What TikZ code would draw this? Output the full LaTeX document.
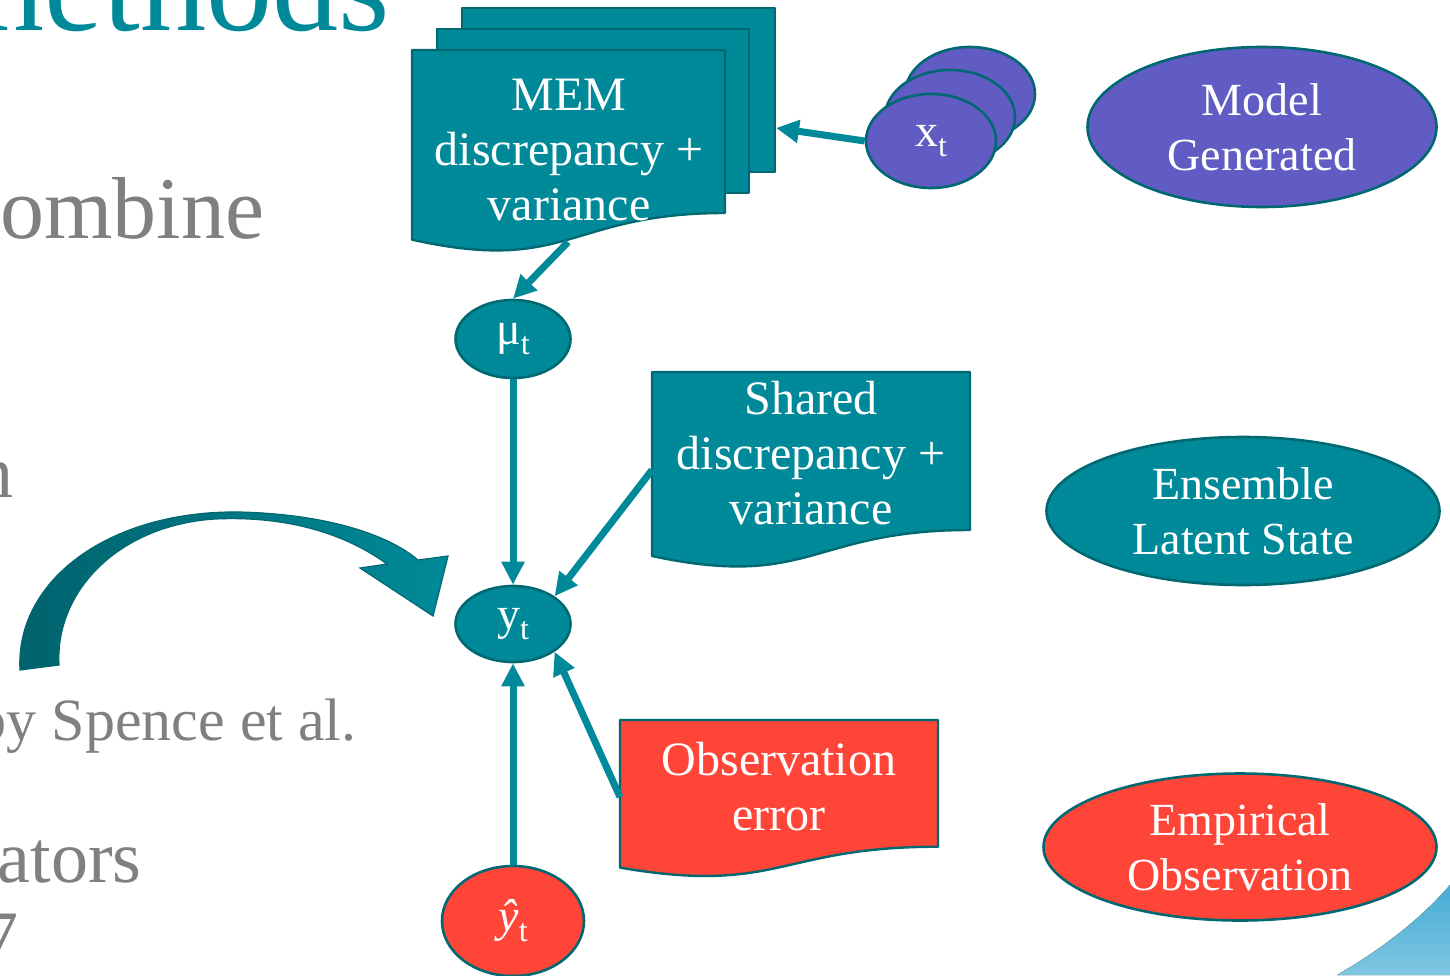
\documentclass[tikz,border=0pt]{standalone}
\usepackage{fontspec}
\setmainfont{Liberation Serif}
\usetikzlibrary{arrows.meta,shapes.geometric}
\definecolor{teal1}{RGB}{0,138,153}
\definecolor{tealdark}{RGB}{0,104,113}
\definecolor{tealdeep}{RGB}{0,98,108}
\definecolor{purp}{RGB}{97,91,196}
\definecolor{redobs}{RGB}{255,69,56}
\definecolor{grayt}{RGB}{128,128,128}
\definecolor{skyA}{RGB}{71,172,213}
\definecolor{skyB}{RGB}{128,198,225}
% time index set as a lowered subscript
\newcommand{\tidx}{\raisebox{-5pt}{\fontsize{16}{16}\selectfont t}}

\begin{document}
\begin{tikzpicture}[x=0.5pt,y=-0.5pt,
  sheet/.style={draw=tealdark,line width=1.2pt,line join=round},
  bubble/.style={ellipse,draw=tealdark,line width=1.3pt,inner sep=0pt,text=white},
  boxtext/.style={text=white,align=center,inner sep=0pt,font=\fontsize{24}{27.5}\selectfont},
  legend/.style={bubble,align=center,font=\fontsize{23}{27.5}\selectfont},
  var/.style={bubble,font=\fontsize{23}{27}\selectfont},
  link/.style={draw=teal1,line width=3.5pt,-{Triangle[length=11.5pt,width=11pt]}},
  slide/.style={text=grayt,inner sep=0pt}
]
\useasboundingbox (0,0) rectangle (1450,975);
\clip (0,0) rectangle (1450,975);

% slide text running off the left edge
\node[anchor=base east,inner sep=0pt,text=teal1,font=\fontsize{66}{66}\selectfont] (title) at (390,30) {nethods};
\node[slide,anchor=base west,font=\fontsize{44}{44}\selectfont] (l1) at (0,238) {ombine};
\node[slide,anchor=base east,font=\fontsize{37}{37}\selectfont] (l2) at (14,497) {n};
\node[slide,anchor=base east,font=\fontsize{30}{30}\selectfont] (l3) at (357,740) {by Spence et al.};
\node[slide,anchor=base east,font=\fontsize{37}{37}\selectfont] (l4) at (142,882) {ators};
\node[slide,anchor=base east,font=\fontsize{37}{37}\selectfont] (l5) at (19,962) {7};

% curved block arrow
\path[draw=tealdark,line width=0.6pt,left color=tealdeep,right color=teal1]
  (20,670) .. controls (15,580) and (110,510) .. (240,512)
  .. controls (320,514) and (385,532) .. (418,560)
  -- (448,556) -- (433,616) -- (360,568) -- (387,564)
  .. controls (340,530) and (280,516) .. (215,519)
  .. controls (120,525) and (55,590) .. (59,665) -- cycle;

% corner decoration
\fill[top color=skyA,bottom color=skyB]
  (1337,975) .. controls (1380,950) and (1420,920) .. (1450,885) -- (1450,975) -- cycle;

% stacked MEM sheets
\filldraw[sheet,fill=teal1] (462,8) rectangle (775,172);
\filldraw[sheet,fill=teal1] (437,29) rectangle (749,193);
\filldraw[sheet,fill=teal1] (412,50) -- (725,50) -- (725,213)
  .. controls (568.5,213) and (568.5,274.7) .. (412,239.6) -- cycle;
\node[boxtext] (mem) at (569,150) {MEM\\discrepancy +\\variance};

% shared discrepancy sheet
\filldraw[sheet,fill=teal1] (652,372) -- (970,372) -- (970,530)
  .. controls (811,530) and (811,590) .. (652,556) -- cycle;
\node[boxtext] (shared) at (811,453) {Shared\\discrepancy +\\variance};

% observation error sheet
\filldraw[sheet,fill=redobs] (620,720) -- (938,720) -- (938,846.7)
  .. controls (779,846.7) and (779,894.9) .. (620,867.6) -- cycle;
\node[boxtext] (obs) at (779,787) {Observation\\error};

% connector ends on the sheets
\coordinate (memR) at (776,128);
\coordinate (memB) at (568,242);
\coordinate (sharedL) at (652,470);
\coordinate (obsL) at (620,797);

% variables
\node[var,fill=purp,minimum width=65pt,minimum height=47pt] (x3) at (970,94) {};
\node[var,fill=purp,minimum width=65pt,minimum height=47pt] (x2) at (950,117) {};
\node[var,fill=purp,minimum width=65pt,minimum height=47pt] (xt) at (931,141) {x\tidx};
\node[var,fill=teal1,minimum width=57.5pt,minimum height=39pt] (mu) at (513,339) {μ\tidx};
\node[var,fill=teal1,minimum width=57.5pt,minimum height=38pt] (yt) at (513,624) {y\tidx};
\node[var,fill=redobs,minimum width=71pt,minimum height=55pt] (yhat) at (513,921) {{\itshape ŷ}\tidx};

% legend
\node[legend,fill=purp,minimum width=174.5pt,minimum height=80pt] (lgModel) at (1262,127) {Model\\Generated};
\node[legend,fill=teal1,minimum width=196.5pt,minimum height=74pt] (lgEns) at (1243,511) {Ensemble\\Latent State};
\node[legend,fill=redobs,minimum width=196.5pt,minimum height=73.5pt] (lgEmp) at (1240,847) {Empirical\\Observation};

% connectors
\draw[link] (xt.west) -- (memR);
\draw[link] (memB) -- (mu.north);
\draw[link] (mu.south) -- (yt.north);
\draw[link] (sharedL) -- (yt.north east);
\draw[link] (obsL) -- (yt.south east);
\draw[link] (yhat.north) -- (yt.south);
\end{tikzpicture}
\end{document}
